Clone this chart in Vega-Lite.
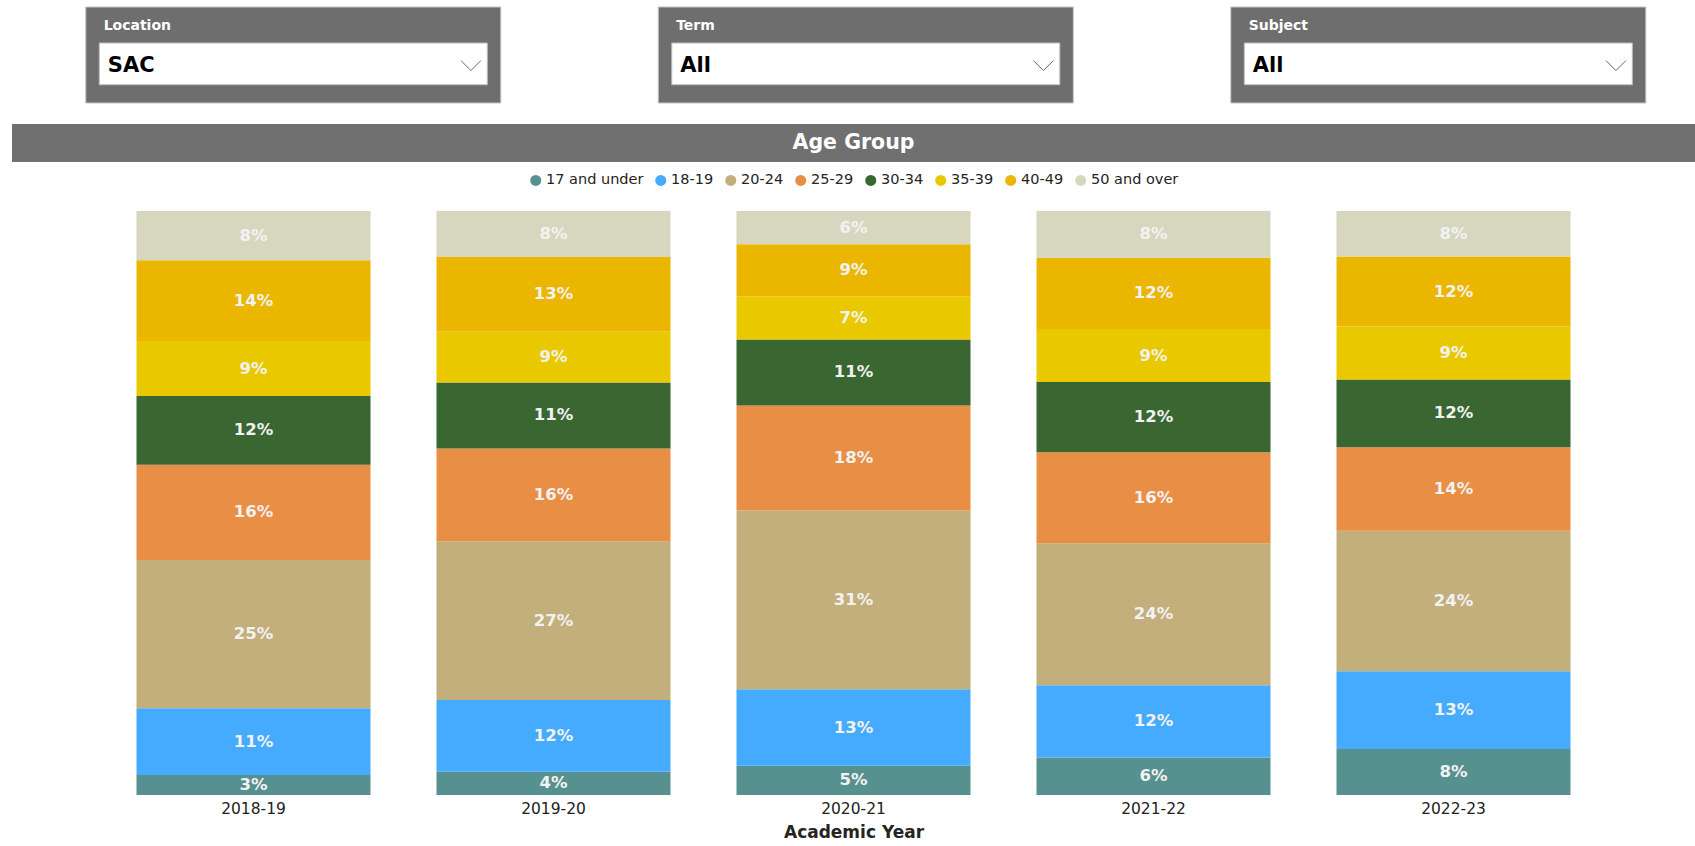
{
  "$schema": "https://vega.github.io/schema/vega-lite/v6.json",
  "background": "white",
  "padding": {"left": 12, "top": 6, "right": 0, "bottom": 0},
  "config": {
    "view": {"stroke": null},
    "font": "DejaVu Sans",
    "legend": {"layout": {"top": {"anchor": "middle"}}}
  },
  "datasets": {
    "slicers": [
      {"slicer": "Location", "value": "SAC"},
      {"slicer": "Term", "value": "All"},
      {"slicer": "Subject", "value": "All"}
    ],
    "ages": [
      {"year": "2018-19", "age": "17 and under", "v": 0.034},
      {"year": "2018-19", "age": "18-19", "v": 0.114},
      {"year": "2018-19", "age": "20-24", "v": 0.253},
      {"year": "2018-19", "age": "25-29", "v": 0.163},
      {"year": "2018-19", "age": "30-34", "v": 0.117},
      {"year": "2018-19", "age": "35-39", "v": 0.094},
      {"year": "2018-19", "age": "40-49", "v": 0.138},
      {"year": "2018-19", "age": "50 and over", "v": 0.084},
      {"year": "2019-20", "age": "17 and under", "v": 0.04},
      {"year": "2019-20", "age": "18-19", "v": 0.123},
      {"year": "2019-20", "age": "20-24", "v": 0.272},
      {"year": "2019-20", "age": "25-29", "v": 0.159},
      {"year": "2019-20", "age": "30-34", "v": 0.113},
      {"year": "2019-20", "age": "35-39", "v": 0.088},
      {"year": "2019-20", "age": "40-49", "v": 0.127},
      {"year": "2019-20", "age": "50 and over", "v": 0.079},
      {"year": "2020-21", "age": "17 and under", "v": 0.05},
      {"year": "2020-21", "age": "18-19", "v": 0.131},
      {"year": "2020-21", "age": "20-24", "v": 0.306},
      {"year": "2020-21", "age": "25-29", "v": 0.18},
      {"year": "2020-21", "age": "30-34", "v": 0.113},
      {"year": "2020-21", "age": "35-39", "v": 0.074},
      {"year": "2020-21", "age": "40-49", "v": 0.089},
      {"year": "2020-21", "age": "50 and over", "v": 0.057},
      {"year": "2021-22", "age": "17 and under", "v": 0.064},
      {"year": "2021-22", "age": "18-19", "v": 0.124},
      {"year": "2021-22", "age": "20-24", "v": 0.243},
      {"year": "2021-22", "age": "25-29", "v": 0.156},
      {"year": "2021-22", "age": "30-34", "v": 0.12},
      {"year": "2021-22", "age": "35-39", "v": 0.091},
      {"year": "2021-22", "age": "40-49", "v": 0.122},
      {"year": "2021-22", "age": "50 and over", "v": 0.08},
      {"year": "2022-23", "age": "17 and under", "v": 0.079},
      {"year": "2022-23", "age": "18-19", "v": 0.133},
      {"year": "2022-23", "age": "20-24", "v": 0.241},
      {"year": "2022-23", "age": "25-29", "v": 0.143},
      {"year": "2022-23", "age": "30-34", "v": 0.116},
      {"year": "2022-23", "age": "35-39", "v": 0.091},
      {"year": "2022-23", "age": "40-49", "v": 0.12},
      {"year": "2022-23", "age": "50 and over", "v": 0.078}
    ]
  },
  "spacing": 20,
  "center": true,
  "resolve": {"scale": {"color": "independent", "x": "independent", "y": "independent"}, "legend": {"color": "independent"}},
  "vconcat": [
    {
      "width": 1683,
      "height": 96,
      "data": {"name": "slicers"},
      "layer": [
        {
          "mark": {"type": "bar", "fill": "#6e6e6e", "stroke": "#c4c4c4", "strokeWidth": 1},
          "encoding": {
            "x": {"field": "slicer", "type": "nominal", "sort": null, "scale": {"paddingInner": 0.2751, "paddingOuter": 0.1074, "align": 0.6}, "axis": null},
            "y": {"datum": 0, "type": "quantitative", "scale": {"domain": [0, 1], "reverse": true}, "axis": null},
            "y2": {"datum": 1}
          }
        },
        {
          "mark": {"type": "bar", "fill": "white", "stroke": "#bdbdbd", "strokeWidth": 1, "width": {"band": 0.935}},
          "encoding": {
            "x": {"field": "slicer", "type": "nominal", "sort": null},
            "y": {"datum": 0.375, "type": "quantitative"},
            "y2": {"datum": 0.81}
          }
        },
        {
          "mark": {"type": "text", "align": "left", "baseline": "middle", "fontWeight": "bold", "fontSize": 14, "color": "white"},
          "encoding": {
            "x": {"field": "slicer", "type": "nominal", "sort": null, "bandPosition": 0.043},
            "y": {"datum": 0.2, "type": "quantitative"},
            "text": {"field": "slicer"}
          }
        },
        {
          "mark": {"type": "text", "align": "left", "baseline": "middle", "fontWeight": "bold", "fontSize": 21, "color": "black"},
          "encoding": {
            "x": {"field": "slicer", "type": "nominal", "sort": null, "bandPosition": 0.053},
            "y": {"datum": 0.61, "type": "quantitative"},
            "text": {"field": "value"}
          }
        },
        {
          "mark": {"type": "point", "shape": "M-1,-0.5L0,0.5L1,-0.5", "filled": false, "stroke": "#666666", "strokeWidth": 1, "size": 400, "opacity": 1},
          "encoding": {
            "x": {"field": "slicer", "type": "nominal", "sort": null, "bandPosition": 0.928},
            "y": {"datum": 0.61, "type": "quantitative"}
          }
        }
      ]
    },
    {
      "spacing": 11,
      "center": true,
      "resolve": {"scale": {"color": "independent", "x": "independent", "y": "independent"}, "legend": {"color": "independent"}},
      "vconcat": [
        {
          "width": 1683,
          "height": 38,
          "view": {"fill": "#707070", "stroke": null},
          "data": {"values": [{"label": "Age Group"}]},
          "mark": {"type": "text", "fontSize": 20.5, "fontWeight": "bold", "color": "white", "align": "center", "baseline": "middle"},
          "encoding": {"text": {"field": "label"}}
        },
        {
          "width": 1500,
          "height": 584,
          "data": {"name": "ages"},
          "transform": [
            {"stack": "v", "groupby": ["year"], "sort": [{"field": "age", "order": "ascending"}], "as": ["y0", "y1"], "offset": "normalize"},
            {"calculate": "(datum.y0 + datum.y1) / 2", "as": "ym"}
          ],
          "encoding": {
            "x": {
              "field": "year", "type": "nominal", "sort": null,
              "scale": {"paddingInner": 0.22, "paddingOuter": 0.11},
              "axis": {
                "title": "Academic Year", "titleFontSize": 17, "titleFontWeight": "bold", "titleColor": "#252423",
                "labelFontSize": 15.5, "labelColor": "#222222", "labelAngle": 0, "ticks": false, "domain": false,
                "labelPadding": 6, "titlePadding": 8
              }
            }
          },
          "layer": [
            {
              "mark": {"type": "bar"},
              "encoding": {
                "y": {"field": "y0", "type": "quantitative", "scale": {"domain": [0, 1]}, "axis": null},
                "y2": {"field": "y1"},
                "color": {
                  "field": "age", "type": "nominal",
                  "scale": {
                    "domain": ["17 and under", "18-19", "20-24", "25-29", "30-34", "35-39", "40-49", "50 and over"],
                    "range": ["#56908f", "#45abff", "#c2af7c", "#e88e45", "#3a6632", "#e9c800", "#ebb600", "#d6d7be"]
                  },
                  "legend": {
                    "orient": "top", "direction": "horizontal", "title": null,
                    "symbolType": "circle", "symbolSize": 121, "symbolStrokeWidth": 0,
                    "labelFontSize": 14.5, "labelColor": "#252423", "labelOffset": 3,
                    "columnPadding": 10, "offset": 24, "padding": 0
                  }
                }
              }
            },
            {
              "mark": {"type": "text", "fontWeight": "bold", "fontSize": 16.5, "color": "#f2f2f2", "align": "center", "baseline": "middle"},
              "encoding": {
                "y": {"field": "ym", "type": "quantitative"},
                "text": {"field": "v", "type": "quantitative", "format": ".0%"}
              }
            }
          ]
        }
      ]
    }
  ]
}
